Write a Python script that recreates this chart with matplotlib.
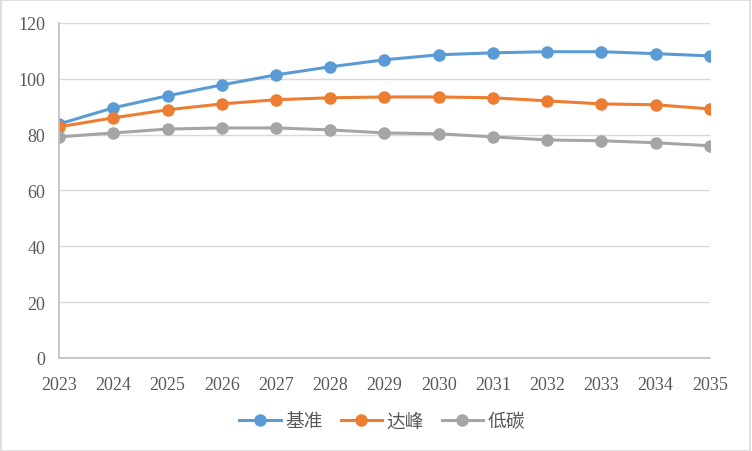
import matplotlib
matplotlib.use("Agg")
import matplotlib.pyplot as plt
from matplotlib.patches import Rectangle

years = list(range(2023, 2036))
baseline = [83.8, 89.6, 93.9, 97.8, 101.4, 104.3, 106.8, 108.6, 109.3, 109.7, 109.7, 109.0, 108.2]
peak = [82.8, 86.0, 88.9, 91.0, 92.5, 93.2, 93.5, 93.5, 93.2, 92.1, 91.0, 90.7, 89.2]
lowc = [79.2, 80.6, 82.0, 82.4, 82.4, 81.7, 80.6, 80.3, 79.2, 78.1, 77.8, 77.1, 76.0]
names = ["基准", "达峰", "低碳"]
colors = ["#5B9BD5", "#ED7D31", "#A5A5A5"]
yticks = [0, 20, 40, 60, 80, 100, 120]

fig = plt.figure(figsize=(7.52, 4.52), dpi=100)
ax = fig.add_axes([0.0785, 0.2058, 0.8655, 0.7412])
for vals, name, c in zip([baseline, peak, lowc], names, colors):
    ax.plot(years, vals, color=c, lw=2.2, marker="o", ms=8, label=name)

ax.set_xlim(2023, 2035)
ax.set_ylim(0, 120)
ax.set_yticks(yticks)
ax.set_xticks(years)
ax.grid(axis="y", color="#D9D9D9", lw=1)
ax.set_axisbelow(True)
for s in ["top", "right"]:
    ax.spines[s].set_visible(False)
ax.spines["left"].set_color("#BFBFBF")
ax.spines["bottom"].set_color("#BFBFBF")
ax.spines["left"].set_linewidth(1.2)
ax.spines["bottom"].set_linewidth(1.2)
ax.tick_params(axis="y", length=0, labelsize=13, colors="#595959", pad=10)
ax.tick_params(axis="x", length=0, labelsize=13, colors="#595959", pad=13)
for lab in ax.get_xticklabels() + ax.get_yticklabels():
    lab.set_fontfamily("Liberation Serif")

leg = ax.legend(loc="center", bbox_to_anchor=(0.4966, -0.1878), ncol=3, frameon=False,
                prop={"family": ["Noto Sans CJK SC", "DejaVu Sans"], "size": 13.5},
                handlelength=2.2, columnspacing=0.95, handletextpad=0.25)
for t in leg.get_texts():
    t.set_color("#595959")

fig.patches.append(Rectangle((0.001, 0.001), 0.997, 0.997, transform=fig.transFigure,
                             fill=False, edgecolor="#D9D9D9", lw=1.2))
fig.savefig("out.png", dpi=100)
